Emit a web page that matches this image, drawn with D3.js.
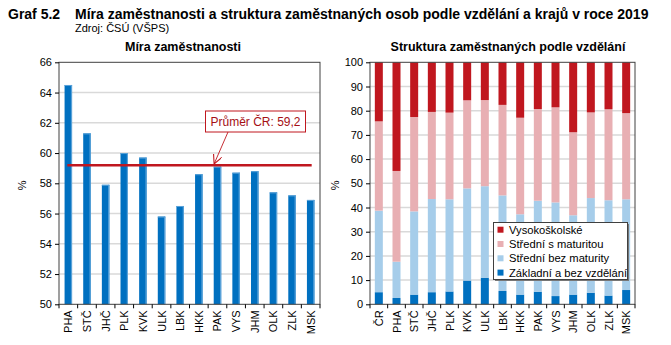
<!DOCTYPE html>
<html><head><meta charset="utf-8">
<script src="https://cdn.jsdelivr.net/npm/d3@7/dist/d3.min.js"></script>
<style>body{margin:0;background:#fff}svg{display:block}</style>
</head><body><svg id="c" width="671" height="345"></svg>
<script>
const regions1 = ["PHA","STČ","JHČ","PLK","KVK","ULK","LBK","HKK","PAK","VYS","JHM","OLK","ZLK","MSK"];
const employmentRate = [64.5,61.3,57.9,60.0,59.7,55.8,56.5,58.6,59.1,58.7,58.8,57.4,57.2,56.9];
const average = 59.2;
const yTicks1 = [50,52,54,56,58,60,62,64,66];

const regions2 = ["ČR","PHA","STČ","JHČ","PLK","KVK","ULK","LBK","HKK","PAK","VYS","JHM","OLK","ZLK","MSK"];
const zakladni   = [5.0,2.6,4.0,5.0,5.3,9.8,11.0,5.5,4.0,5.2,3.4,4.0,4.8,3.6,5.9];
const bezMat     = [33.7,15.0,34.4,38.5,38.1,38.1,37.8,39.5,33.2,37.6,38.7,32.8,39.1,39.4,37.5];
const sMat       = [36.9,37.5,39.0,36.0,35.8,36.4,35.6,37.4,39.9,37.9,39.3,34.3,35.4,37.6,35.6];
const vysokoskolske = [24.4,44.9,22.6,20.5,20.8,15.7,15.6,17.6,22.9,19.3,18.6,28.9,20.7,19.4,21.0];
const yTicks2 = [0,10,20,30,40,50,60,70,80,90,100];
const seriesNames = ["Základní a bez vzdělání","Střední bez maturity","Střední s maturitou","Vysokoškolské"];
const seriesColors = ["#0070C0","#A6CDEA","#E8AFB3","#C0171F"];

const svg = d3.select("#c");
const F = "'Liberation Sans', Arial, sans-serif";
const FN = "'Liberation Sans Narrow', 'Arial Narrow', 'Liberation Sans', sans-serif";

// Titles
svg.append("text").attr("x",8).attr("y",19).attr("font-family",FN).attr("font-weight","bold").attr("font-size",14).attr("fill","#000").text("Graf 5.2");
svg.append("text").attr("x",75).attr("y",19).attr("font-family",FN).attr("font-weight","bold").attr("font-size",14).attr("fill","#000").text("Míra zaměstnanosti a struktura zaměstnaných osob podle vzdělání a krajů v roce 2019");
svg.append("text").attr("x",75).attr("y",32).attr("font-family",FN).attr("font-size",11).attr("fill","#000").text("Zdroj: ČSÚ (VŠPS)");
svg.append("text").attr("x",183).attr("y",51).attr("text-anchor","middle").attr("font-family",FN).attr("font-weight","bold").attr("font-size",12.5).text("Míra zaměstnanosti");
svg.append("text").attr("x",508).attr("y",51).attr("text-anchor","middle").attr("font-family",FN).attr("font-weight","bold").attr("font-size",12.5).text("Struktura zaměstnaných podle vzdělání");

function frame(g, x0, x1, y, ticks) {
  g.append("g").selectAll("line").data(ticks).join("line")
    .attr("x1",x0).attr("x2",x1).attr("y1",d=>y(d)).attr("y2",d=>y(d))
    .attr("stroke","#d9d9d9").attr("stroke-width",1.5);
}
function axes(g, x0, x1, y, ticks, xScale, cats, pctX) {
  const top = y.range()[1], bot = y.range()[0];
  g.append("rect").attr("x",x0).attr("y",top).attr("width",x1-x0).attr("height",bot-top)
    .attr("fill","none").attr("stroke","#404040").attr("stroke-width",1);
  const ya = g.append("g").attr("transform",`translate(${x0},0)`)
    .call(d3.axisLeft(y).tickValues(ticks).tickSize(4).tickPadding(3));
  ya.select(".domain").remove();
  ya.selectAll("line").attr("stroke","#000");
  ya.selectAll("text").attr("font-family",F).attr("font-size",11).attr("fill","#000");
  const bw = xScale.step();
  const bounds = cats.map((c,i)=>xScale(c)).concat([xScale(cats[cats.length-1])+bw]);
  g.append("g").selectAll("line").data(bounds).join("line")
    .attr("x1",d=>d).attr("x2",d=>d).attr("y1",bot).attr("y2",bot+4).attr("stroke","#000");
  g.append("g").selectAll("text").data(cats).join("text")
    .attr("transform",d=>`translate(${xScale(d)+bw/2+4},${bot+6}) rotate(-90)`)
    .attr("text-anchor","end").attr("font-family",F).attr("font-size",11).attr("fill","#000").text(d=>d);
  g.append("text").attr("transform",`translate(${pctX},${(top+bot)/2+2}) rotate(-90)`)
    .attr("text-anchor","middle").attr("font-family",F).attr("font-size",11).text("%");
}

// Left chart
const L = {x0:59, x1:320, top:62.3, bot:304.3};
const g1 = svg.append("g");
const x1 = d3.scaleBand().domain(regions1).range([L.x0, L.x1]).paddingInner(0).paddingOuter(0);
const y1 = d3.scaleLinear().domain([50,66]).range([L.bot, L.top]);
frame(g1, L.x0, L.x1, y1, yTicks1.slice(1,-1));
const bw1 = 7.5;
g1.append("g").selectAll("rect").data(employmentRate).join("rect")
  .attr("x",(d,i)=>x1(regions1[i])+x1.bandwidth()/2-bw1/2)
  .attr("width",bw1).attr("y",d=>y1(d)).attr("height",d=>y1(50)-y1(d)).attr("fill","#0070C0");
g1.append("g").selectAll("rect").data(employmentRate).join("rect")
  .attr("x",(d,i)=>x1(regions1[i])+x1.bandwidth()/2+bw1/2-1.2)
  .attr("width",1.2).attr("y",d=>y1(d)).attr("height",d=>y1(50)-y1(d)).attr("fill","#5aa2d8");
g1.append("g").selectAll("rect").data(employmentRate).join("rect")
  .attr("x",(d,i)=>x1(regions1[i])+x1.bandwidth()/2-bw1/2)
  .attr("width",bw1).attr("y",d=>y1(d)).attr("height",1).attr("fill","#5aa2d8");
g1.append("line").attr("x1",x1(regions1[0])+x1.bandwidth()/2-1).attr("x2",x1(regions1[regions1.length-1])+x1.bandwidth()/2+1)
  .attr("y1",y1(average)).attr("y2",y1(average)).attr("stroke","#C0171F").attr("stroke-width",2.5);
axes(g1, L.x0, L.x1, y1, yTicks1, x1, regions1, 26);
const defs = svg.append("defs");
defs.append("marker").attr("id","arr").attr("viewBox","0 0 10 10").attr("refX",9).attr("refY",5)
  .attr("markerWidth",9).attr("markerHeight",9).attr("orient","auto").attr("markerUnits","userSpaceOnUse")
  .append("path").attr("d","M0,0 L10,5 L0,10").attr("fill","none").attr("stroke","#C0171F").attr("stroke-width",1.2);
const ax = x1("PAK")+x1.bandwidth()/2 - 3;
g1.append("line").attr("x1",228).attr("y1",132).attr("x2",ax).attr("y2",y1(average)-2)
  .attr("stroke","#C0171F").attr("stroke-width",0.9).attr("marker-end","url(#arr)");
g1.append("rect").attr("x",205.5).attr("y",111).attr("width",100).attr("height",21)
  .attr("fill","#fff").attr("stroke","#C0171F").attr("stroke-width",1);
g1.append("text").attr("x",255.5).attr("y",126).attr("text-anchor","middle").attr("font-family",F)
  .attr("font-size",12).attr("fill","#A50F15").text("Průměr ČR: " + String(average).replace(".",","));

// Right chart
const R = {x0:370, x1:635, top:62.3, bot:304.3};
const g2 = svg.append("g");
const x2 = d3.scaleBand().domain(regions2).range([R.x0, R.x1]);
const y2 = d3.scaleLinear().domain([0,100]).range([R.bot, R.top]);
frame(g2, R.x0, R.x1, y2, yTicks2.slice(1,-1));
const rows = regions2.map((r,i)=>({r, a:zakladni[i], b:bezMat[i], c:sMat[i], d:vysokoskolske[i]}));
const stack = d3.stack().keys(["a","b","c","d"])(rows);
const bw2 = 8;
stack.forEach((layer,k)=>{
  g2.append("g").selectAll("rect").data(layer).join("rect")
    .attr("x",d=>x2(d.data.r)+x2.bandwidth()/2-bw2/2).attr("width",bw2)
    .attr("y",d=>y2(Math.min(d[1],100))).attr("height",d=>y2(d[0])-y2(Math.min(d[1],100)))
    .attr("fill",seriesColors[k]);
});
axes(g2, R.x0, R.x1, y2, yTicks2, x2, regions2, 339);

// legend
const lg = svg.append("g");
lg.append("rect").attr("x",495).attr("y",224).attr("width",134).attr("height",57).attr("fill","#777");
lg.append("rect").attr("x",493.5).attr("y",222.5).attr("width",134).attr("height",57).attr("fill","#fff").attr("stroke","#404040");
const legendOrder = [3,2,1,0];
legendOrder.forEach((k,i)=>{
  const cy = 229.7 + i*14.3;
  lg.append("rect").attr("x",497.5).attr("y",cy-3).attr("width",6).attr("height",6).attr("fill",seriesColors[k]);
  lg.append("text").attr("x",509).attr("y",cy+4).attr("font-family",F).attr("font-size",11.2).attr("fill","#000").text(seriesNames[k]);
});
</script></body></html>
